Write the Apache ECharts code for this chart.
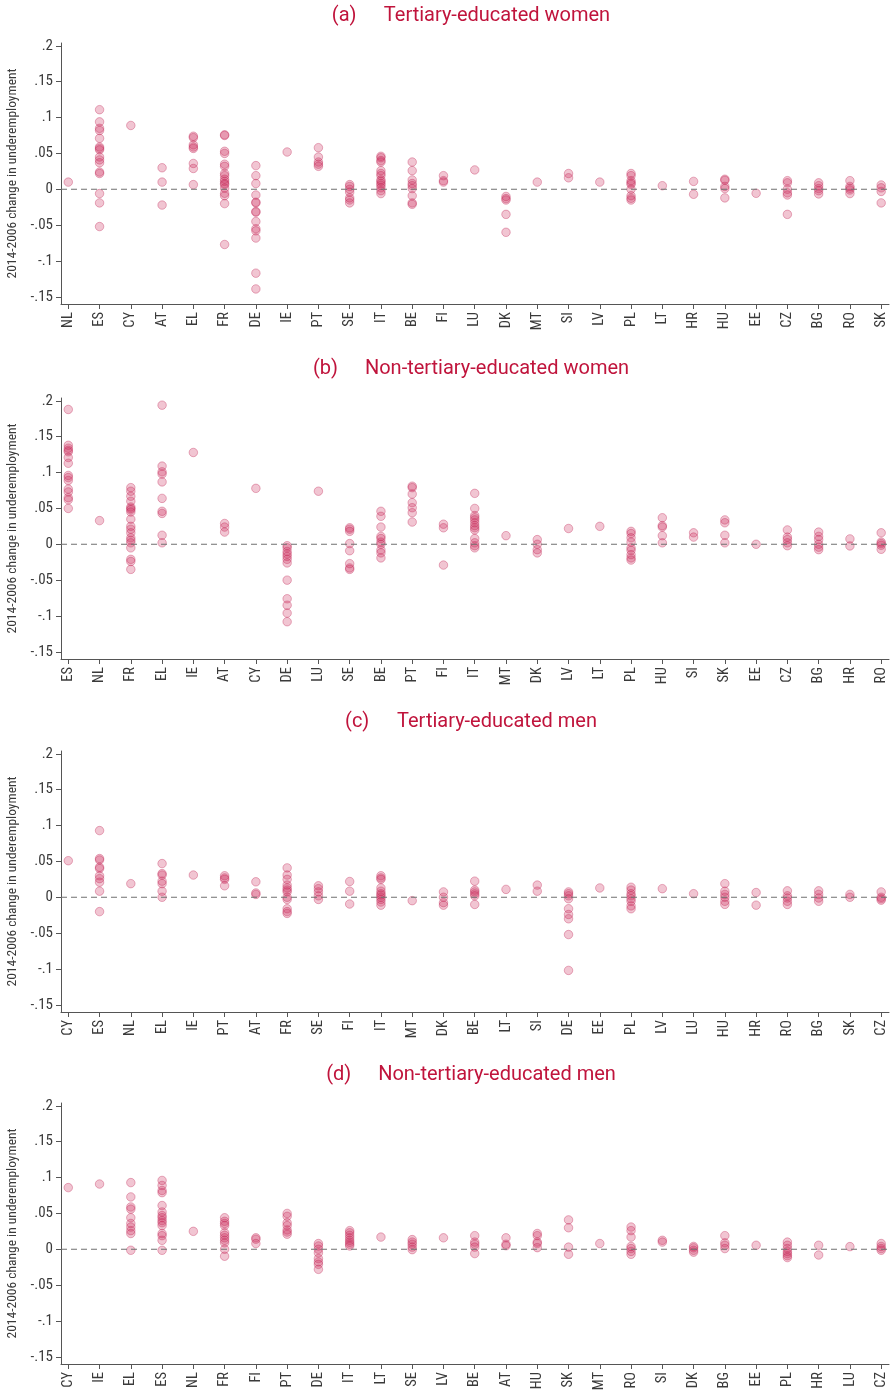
<!DOCTYPE html>
<html>
<head>
<meta charset="utf-8">
<script src="https://cdn.jsdelivr.net/npm/echarts@6/dist/echarts.min.js"></script>
<style>
html,body{margin:0;padding:0;background:#fff;}
#chart{width:890px;height:1392px;}
</style>
</head>
<body>
<div id="chart"></div>
<script>
// ---------- DATA ----------
const yTicks = [-0.15, -0.1, -0.05, 0, 0.05, 0.1, 0.15, 0.2];

const titleA = 'Tertiary-educated women';
const catsA = ['NL','ES','CY','AT','EL','FR','DE','IE','PT','SE','IT','BE','FI','LU','DK','MT','SI','LV','PL','LT','HR','HU','EE','CZ','BG','RO','SK'];
const valsA = [
  [0.010],
  [0.111,0.094,0.085,0.082,0.071,0.059,0.057,0.055,0.045,0.041,0.037,0.024,0.022,-0.006,-0.019,-0.052],
  [0.089],
  [0.030,0.010,-0.022],
  [0.074,0.072,0.062,0.059,0.057,0.036,0.029,0.0065],
  [0.076,0.075,0.053,0.050,0.035,0.032,0.022,0.019,0.014,0.011,0.008,0.0065,0.0015,-0.0056,-0.009,-0.020,-0.077],
  [0.033,0.019,0.008,-0.008,-0.018,-0.019,-0.031,-0.032,-0.045,-0.055,-0.058,-0.068,-0.117,-0.139],
  [0.052],
  [0.058,0.045,0.038,0.035,0.032],
  [0.0065,0.004,0.0,-0.004,-0.012,-0.015,-0.019],
  [0.046,0.044,0.040,0.038,0.026,0.022,0.019,0.013,0.011,0.008,0.0056,0.002,-0.002,-0.006],
  [0.038,0.026,0.013,0.008,0.005,0.001,-0.009,-0.019,-0.021],
  [0.019,0.012,0.010],
  [0.027],
  [-0.010,-0.013,-0.015,-0.035,-0.060],
  [0.010],
  [0.022,0.016],
  [0.010],
  [0.022,0.019,0.012,0.009,0.007,0.0,-0.009,-0.0125,-0.015],
  [0.005],
  [0.011,-0.007],
  [0.014,0.0125,0.004,0.001,-0.012],
  [-0.0056],
  [0.012,0.009,0.0,-0.005,-0.008,-0.035],
  [0.009,0.005,0.001,-0.002,-0.0065],
  [0.012,0.004,0.0015,-0.001,-0.006],
  [0.006,0.002,-0.003,-0.019]
];

const titleB = 'Non-tertiary-educated women';
const catsB = ['ES','NL','FR','EL','IE','AT','CY','DE','LU','SE','BE','PT','FI','IT','MT','DK','LV','LT','PL','HU','SI','SK','EE','CZ','BG','HR','RO'];
const valsB = [
  [0.188,0.138,0.134,0.131,0.129,0.121,0.113,0.096,0.093,0.089,0.077,0.073,0.065,0.062,0.050],
  [0.033],
  [0.079,0.074,0.067,0.060,0.052,0.050,0.048,0.045,0.035,0.025,0.021,0.016,0.009,0.0056,0.002,-0.005,-0.021,-0.024,-0.035],
  [0.194,0.109,0.101,0.098,0.087,0.064,0.046,0.043,0.0126,0.002],
  [0.128],
  [0.029,0.024,0.017],
  [0.078],
  [-0.002,-0.005,-0.010,-0.0135,-0.017,-0.021,-0.026,-0.050,-0.076,-0.085,-0.096,-0.108],
  [0.074],
  [0.023,0.021,0.018,0.001,-0.009,-0.027,-0.033,-0.035],
  [0.046,0.039,0.024,0.011,0.008,0.003,0.0,-0.008,-0.012,-0.019],
  [0.081,0.079,0.070,0.058,0.051,0.044,0.031],
  [0.028,0.023,-0.029],
  [0.071,0.050,0.040,0.037,0.034,0.030,0.026,0.023,0.020,0.008,0.002,-0.002,-0.005],
  [0.012],
  [0.0065,0.0,-0.0075,-0.012],
  [0.022],
  [0.025],
  [0.018,0.015,0.009,0.003,-0.005,-0.0084,-0.0145,-0.019,-0.022],
  [0.037,0.026,0.024,0.012,0.002],
  [0.016,0.010],
  [0.034,0.030,0.0126,0.002],
  [0.0],
  [0.020,0.010,0.0065,0.002,-0.002],
  [0.017,0.011,0.0065,0.0,-0.004,-0.0075],
  [0.0075,-0.0023],
  [0.016,0.003,0.001,-0.0014,-0.007]
];

const titleC = 'Tertiary-educated men';
const catsC = ['CY','ES','NL','EL','IE','PT','AT','FR','SE','FI','IT','MT','DK','BE','LT','SI','DE','EE','PL','LV','LU','HU','HR','RO','BG','SK','CZ'];
const valsC = [
  [0.051],
  [0.093,0.054,0.052,0.042,0.040,0.030,0.026,0.021,0.0085,-0.020],
  [0.019],
  [0.047,0.033,0.031,0.0225,0.019,0.0085,0.0],
  [0.031],
  [0.030,0.027,0.025,0.016],
  [0.0216,0.006,0.004],
  [0.041,0.031,0.025,0.017,0.013,0.010,0.0075,0.0,-0.003,-0.016,-0.020,-0.0225],
  [0.016,0.012,0.0075,0.002,-0.003],
  [0.022,0.0085,-0.0094],
  [0.030,0.027,0.025,0.013,0.0085,0.005,0.003,0.0,-0.003,-0.0066,-0.011],
  [-0.0047],
  [0.0075,0.0,-0.0075,-0.011],
  [0.0225,0.010,0.0075,0.0047,0.002,-0.010],
  [0.011],
  [0.017,0.0085],
  [0.0075,0.005,0.002,-0.002,-0.016,-0.024,-0.030,-0.052,-0.102],
  [0.013],
  [0.014,0.010,0.005,0.002,-0.002,-0.0056,-0.012,-0.016],
  [0.012],
  [0.005],
  [0.019,0.0085,0.004,0.0,-0.0056,-0.0099],
  [0.0066,-0.011],
  [0.009,0.002,-0.001,-0.0056,-0.010],
  [0.009,0.004,-0.001,-0.0056],
  [0.004,0.0],
  [0.0075,0.0,-0.002,-0.004]
];

const titleD = 'Non-tertiary-educated men';
const catsD = ['CY','IE','EL','ES','NL','FR','FI','PT','DE','IT','LT','SE','LV','BE','AT','HU','SK','MT','RO','SI','DK','BG','EE','PL','HR','LU','CZ'];
const valsD = [
  [0.086],
  [0.091],
  [0.093,0.073,0.059,0.056,0.044,0.036,0.031,0.026,0.022,-0.0014],
  [0.096,0.089,0.082,0.079,0.061,0.052,0.047,0.044,0.040,0.037,0.033,0.022,0.019,0.0125,-0.0014],
  [0.025],
  [0.044,0.039,0.036,0.033,0.023,0.0195,0.016,0.0125,0.009,0.0,-0.0097],
  [0.016,0.014,0.008],
  [0.050,0.046,0.037,0.033,0.027,0.024,0.021],
  [0.008,0.0046,0.0,-0.005,-0.013,-0.0176,-0.021,-0.028],
  [0.026,0.023,0.0195,0.016,0.0125,0.0097,0.007,0.0046],
  [0.017],
  [0.0135,0.010,0.007,0.003,-0.0005],
  [0.016],
  [0.019,0.010,0.007,0.003,-0.006],
  [0.016,0.007,0.005],
  [0.022,0.019,0.010,0.008,0.0023],
  [0.041,0.030,0.003,-0.007],
  [0.008],
  [0.031,0.026,0.017,0.004,0.001,-0.003,-0.007],
  [0.0125,0.010],
  [0.004,0.002,-0.0014,-0.004],
  [0.019,0.009,0.0056,0.001],
  [0.0056],
  [0.010,0.0056,0.001,-0.003,-0.006,-0.009,-0.0116],
  [0.0056,-0.008],
  [0.0037],
  [0.008,0.004,0.001,-0.0014]
];

// ---------- LAYOUT ----------
const panels = [
  {tag:'(a)', title:titleA, cats:catsA, vals:valsA, top:43,  titleY:16},
  {tag:'(b)', title:titleB, cats:catsB, vals:valsB, top:398, titleY:369},
  {tag:'(c)', title:titleC, cats:catsC, vals:valsC, top:751, titleY:722},
  {tag:'(d)', title:titleD, cats:catsD, vals:valsD, top:1103, titleY:1075}
];

const labelFont = "'Liberation Sans Narrow','Roboto Condensed','Roboto',sans-serif";
const axisColor = '#555';
const textColor = '#3a3a3a';
const titleColor = '#c0143c';
const xMin = -0.233, xMax = 26.25;

const grids = [], xAxes = [], yAxes = [], series = [], graphics = [];
const idx = Array.from({length:27}, (_, i) => i);

panels.forEach((p, k) => {
  grids.push({left:61, right:1, top:p.top, height:261, containLabel:false, outerBoundsMode:'none'});
  xAxes.push({
    type:'value', gridIndex:k, min:xMin, max:xMax,
    splitLine:{show:false},
    axisLine:{show:true, onZero:false, lineStyle:{color:axisColor, width:1}},
    axisTick:{show:true, length:5, customValues:idx, lineStyle:{color:axisColor}},
    axisLabel:{customValues:idx, rotate:90, margin:8, color:textColor, fontSize:14.5,
      fontFamily:labelFont, formatter:(v) => p.cats[Math.round(v)] || ''}
  });
  yAxes.push({
    type:'value', gridIndex:k, min:-0.16, max:0.204,
    splitLine:{show:false},
    axisLine:{show:true, onZero:false, lineStyle:{color:axisColor, width:1}},
    axisTick:{show:true, length:5, customValues:yTicks, lineStyle:{color:axisColor}},
    axisLabel:{customValues:yTicks, margin:8, color:textColor, fontSize:15, fontFamily:labelFont,
      formatter:(v) => {
        if (Math.abs(v) < 1e-9) return '0';
        const s = String(Math.round(Math.abs(v)*100)/100).replace(/^0/, '');
        return (v < 0 ? '-' : '') + s;
      }},
    name:'2014-2006 change in underemployment',
    nameLocation:'middle', nameRotate:90, nameGap:40,
    nameTextStyle:{color:textColor, fontSize:13.5, fontFamily:labelFont}
  });
  // dashed zero reference line
  series.push({
    type:'line', xAxisIndex:k, yAxisIndex:k,
    data:[[xMin, 0], [xMax, 0]],
    symbol:'none', silent:true, z:4,
    lineStyle:{color:'#707070', width:1.1, type:[6, 4]},
    emphasis:{disabled:true}
  });
  const data = [];
  p.vals.forEach((arr, i) => arr.forEach(v => data.push([i, v])));
  series.push({
    type:'scatter', xAxisIndex:k, yAxisIndex:k, data,
    symbol:'circle', symbolSize:8.5,
    itemStyle:{color:'rgba(205,40,90,0.27)', borderColor:'rgba(190,30,80,0.34)', borderWidth:1, opacity:1},
    emphasis:{disabled:true},
    silent:true,
    z:3
  });
  graphics.push({
    type:'text', x:471, y:p.titleY,
    style:{
      text:'{l|' + p.tag + '}{t|' + p.title + '}',
      align:'center', verticalAlign:'middle',
      rich:{
        l:{fontFamily:'Roboto', fontSize:20, fill:titleColor, width:52, align:'left'},
        t:{fontFamily:'Roboto', fontSize:20, fill:titleColor}
      }
    }
  });
});

const chart = echarts.init(document.getElementById('chart'), null, {renderer:'canvas'});
chart.setOption({
  animation:false,
  backgroundColor:'#fff',
  grid:grids, xAxis:xAxes, yAxis:yAxes, series:series, graphic:graphics
});
</script>
</body>
</html>
